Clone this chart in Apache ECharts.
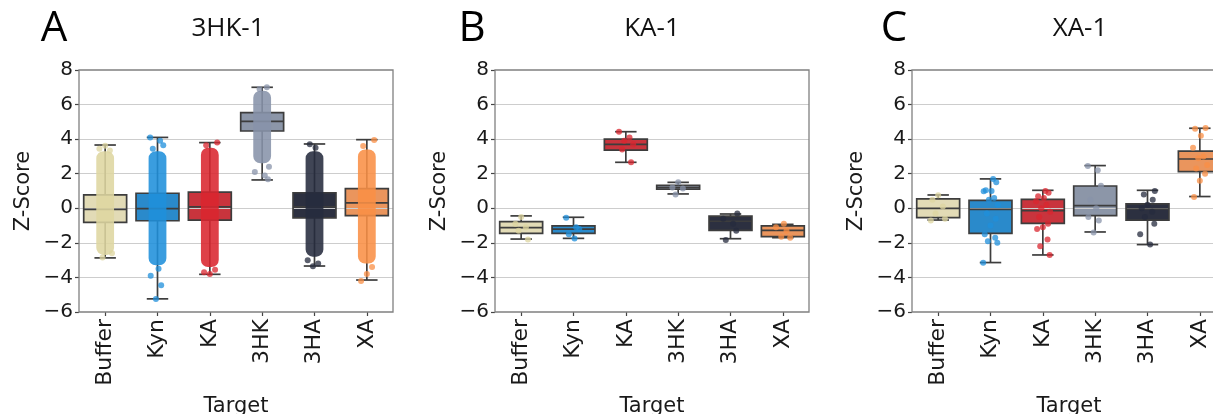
<!DOCTYPE html>
<html><head><meta charset="utf-8">
<script src="https://cdn.jsdelivr.net/npm/echarts@6/dist/echarts.min.js"></script>
<style>html,body{margin:0;padding:0;background:#fff}#c{width:1213px;height:414px}</style>
</head><body><div id="c"></div>
<script>
// ---------------- data ----------------
const categories = ['Buffer', 'Kyn', 'KA', '3HK', '3HA', 'XA'];
const yTicks = [-6, -4, -2, 0, 2, 4, 6, 8];
const panelLetters = ['A', 'B', 'C'];
const panelTitles = ['3HK-1', 'KA-1', 'XA-1'];
const xAxisName = 'Target';
const yAxisName = 'Z-Score';

// box stats per category: [lowWhisker, Q1, median, Q3, highWhisker]
const boxA = [
  [-2.87, -0.81, -0.06, 0.78, 3.66],
  [-5.24, -0.72, -0.02, 0.87, 4.10],
  [-3.82, -0.68, 0.08, 0.93, 3.80],
  [1.64, 4.47, 5.03, 5.53, 7.00],
  [-3.34, -0.56, 0.08, 0.90, 3.72],
  [-4.15, -0.42, 0.31, 1.14, 3.97]
];
const boxB = [
  [-1.78, -1.45, -1.12, -0.77, -0.44],
  [-1.74, -1.45, -1.21, -1.02, -0.52],
  [2.66, 3.37, 3.70, 4.00, 4.43],
  [0.83, 1.10, 1.20, 1.33, 1.50],
  [-1.76, -1.28, -0.75, -0.45, -0.33],
  [-1.70, -1.64, -1.28, -1.02, -0.93]
];
const boxC = [
  [-0.68, -0.54, 0.00, 0.54, 0.77],
  [-3.14, -1.45, -0.06, 0.46, 1.70],
  [-2.70, -0.87, -0.14, 0.52, 1.04],
  [-1.37, -0.42, 0.15, 1.29, 2.47],
  [-2.10, -0.68, -0.04, 0.25, 1.04],
  [0.68, 2.12, 2.85, 3.31, 4.63]
];

// panel A: dense strip of points, extent of the dense part [low, high]
const cloudA = [
  [-2.7, 3.3],
  [-3.3, 3.3],
  [-3.4, 3.5],
  [2.6, 6.8],
  [-2.8, 3.3],
  [-3.2, 3.4]
];
// panel A: sparse points beyond the dense part
const pointsA = [
  [3.62, 3.45, 3.35, -2.85, -2.6],
  [4.1, 3.9, 3.65, 3.45, -3.5, -3.9, -4.45, -5.25],
  [3.8, 3.65, -3.55, -3.8, -3.7],
  [7.0, 6.9, 2.4, 2.1, 1.9, 1.68],
  [3.7, 3.5, -3.0, -3.2, -3.35],
  [3.95, 3.6, -3.4, -3.8, -4.2]
];
const pointsB = [
  [-0.5, -0.9, -1.1, -1.3, -1.8],
  [-0.55, -1.1, -1.2, -1.5, -1.75],
  [4.43, 4.1, 3.9, 3.7, 3.4, 2.66],
  [1.5, 1.2, 1.15, 0.8],
  [-0.3, -0.6, -0.9, -1.3, -1.83],
  [-0.9, -1.1, -1.3, -1.65, -1.7]
];
const pointsC = [
  [0.75, 0.5, 0.1, -0.3, -0.6, -0.7],
  [1.7, 1.5, 1.05, 1.0, 0.98, 0.6, 0.5, 0.2, -0.3, -0.6, -1.0, -1.5, -1.7, -1.9, -2.0, -3.15],
  [1.0, 0.9, 0.7, 0.6, 0.4, 0.2, 0.0, -0.2, -0.5, -0.9, -1.1, -1.2, -1.8, -2.2, -2.7],
  [2.45, 2.2, 1.3, 0.5, 0.0, -0.5, -0.7, -1.4],
  [1.0, 0.8, 0.5, 0.2, 0.0, -0.2, -0.5, -0.9, -1.5, -2.1],
  [4.65, 4.6, 4.2, 3.5, 3.0, 2.9, 2.5, 2.3, 2.0, 1.6, 0.65]
];

// ---------------- style ----------------
const stripColors = ['#ded6a0', '#1f8fdb', '#d9262f', '#8893aa', '#262b3d', '#f98f46'];
const boxColors = ['#e2dbb6', '#2a8acb', '#c9343d', '#8c96a8', '#2c3040', '#ea955d'];
const jitterPattern = [0.0, -0.11, 0.09, -0.05, 0.13, -0.14, 0.05, 0.11, -0.09, 0.02, -0.13, 0.07, -0.03, 0.14, -0.07, 0.1];
const gridsPx = [
  { left: 79, top: 70, width: 314, height: 242 },
  { left: 495, top: 70, width: 314, height: 242 },
  { left: 912, top: 70, width: 314, height: 242 }
];
const titlePos = [[228, 29], [652, 29], [1080, 29]];
const letterPos = [[54, 29], [472, 29], [894, 29]];
const EDGE = '#3d3d3d';
const FONT = 'DejaVu Sans';

const boxes = [boxA, boxB, boxC];
const points = [pointsA, pointsB, pointsC];

function boxData(b) { return b.map((s, i) => [i].concat(s)); }
function pointData(p) {
  const out = []; let k = 0;
  p.forEach((arr, i) => arr.forEach(v => { out.push([i, v, jitterPattern[k % jitterPattern.length]]); k++; }));
  return out;
}

function renderFill(params, api) {
  const x = api.value(0);
  const q1 = api.coord([x, api.value(2)]);
  const q3 = api.coord([x, api.value(4)]);
  const bw = api.size([1, 0])[0] * 0.82;
  return {
    type: 'rect',
    shape: { x: q1[0] - bw / 2, y: q3[1], width: bw, height: q1[1] - q3[1] },
    style: { fill: boxColors[x], stroke: null }
  };
}
function renderLines(params, api) {
  const x = api.value(0);
  const lo = api.coord([x, api.value(1)]);
  const q1 = api.coord([x, api.value(2)]);
  const md = api.coord([x, api.value(3)]);
  const q3 = api.coord([x, api.value(4)]);
  const hi = api.coord([x, api.value(5)]);
  const bw = api.size([1, 0])[0] * 0.82;
  const cx = q1[0];
  const st = { stroke: EDGE, lineWidth: 1.7, fill: null };
  return {
    type: 'group',
    children: [
      { type: 'rect', shape: { x: cx - bw / 2, y: q3[1], width: bw, height: q1[1] - q3[1] }, style: st },
      { type: 'line', shape: { x1: cx - bw / 2, y1: md[1], x2: cx + bw / 2, y2: md[1] }, style: st },
      { type: 'line', shape: { x1: cx, y1: q3[1], x2: cx, y2: hi[1] }, style: st },
      { type: 'line', shape: { x1: cx, y1: q1[1], x2: cx, y2: lo[1] }, style: st },
      { type: 'line', shape: { x1: cx - bw / 4, y1: hi[1], x2: cx + bw / 4, y2: hi[1] }, style: st },
      { type: 'line', shape: { x1: cx - bw / 4, y1: lo[1], x2: cx + bw / 4, y2: lo[1] }, style: st }
    ]
  };
}
function renderCloud(params, api) {
  const x = api.value(0);
  const lo = api.coord([x, api.value(1)]);
  const hi = api.coord([x, api.value(2)]);
  const w = api.size([1, 0])[0] * 0.34;
  return {
    type: 'rect',
    shape: { x: lo[0] - w / 2, y: hi[1], width: w, height: lo[1] - hi[1], r: w / 2.5 },
    style: { fill: stripColors[x], opacity: 0.88 }
  };
}
function renderPoint(params, api) {
  const x = api.value(0);
  const p = api.coord([x, api.value(1)]);
  const bandW = api.size([1, 0])[0];
  return {
    type: 'circle',
    shape: { cx: p[0] + api.value(2) * bandW, cy: p[1], r: 3 },
    style: { fill: stripColors[x], opacity: 0.75 }
  };
}

const option = {
  animation: false,
  backgroundColor: '#fff',
  grid: gridsPx.map(g => Object.assign({ show: true, borderColor: '#808080', borderWidth: 1.3, z: 6, backgroundColor: 'transparent', outerBoundsMode: 'none', containLabel: false }, g)),
  xAxis: gridsPx.map((g, i) => ({
    type: 'category', gridIndex: i, data: categories, boundaryGap: true,
    axisLine: { show: false, onZero: false },
    axisTick: { show: true, alignWithLabel: true, length: 4, lineStyle: { color: '#444', width: 1.2 } },
    axisLabel: { rotate: 90, interval: 0, margin: 7, fontSize: 22, fontFamily: FONT, color: '#1a1a1a' },
    name: xAxisName, nameLocation: 'middle', nameGap: 84,
    nameTextStyle: { fontSize: 21, fontFamily: FONT, color: '#1a1a1a' },
    splitLine: { show: false }, z: 2
  })),
  yAxis: gridsPx.map((g, i) => ({
    type: 'value', gridIndex: i, min: yTicks[0], max: yTicks[yTicks.length - 1], interval: 2,
    axisLine: { show: false, onZero: false },
    axisTick: { show: true, length: 4, lineStyle: { color: '#444', width: 1.2 } },
    axisLabel: { margin: 6, fontSize: 20, fontFamily: FONT, color: '#1a1a1a', formatter: v => String(v).replace('-', '\u2212') },
    splitLine: { show: true, showMinLine: false, showMaxLine: false, lineStyle: { color: '#cdcdcd', width: 1.2 } },
    name: yAxisName, nameLocation: 'middle', nameGap: 45, nameRotate: 90,
    nameTextStyle: { fontSize: 21, fontFamily: FONT, color: '#1a1a1a' },
    z: 2
  })),
  graphic: panelTitles.map((t, i) => ({
    type: 'text', x: titlePos[i][0], y: titlePos[i][1], z: 10,
    style: { text: t, fontSize: 26, fontFamily: 'Open Sans', fill: '#111', textAlign: 'center', textVerticalAlign: 'middle' }
  })).concat(panelLetters.map((t, i) => ({
    type: 'text', x: letterPos[i][0], y: letterPos[i][1], z: 10,
    style: { text: t, fontSize: 42, fontFamily: 'Open Sans', fill: '#000', textAlign: 'center', textVerticalAlign: 'middle' }
  }))),
  series: []
};

boxes.forEach((b, i) => {
  option.series.push({ type: 'custom', xAxisIndex: i, yAxisIndex: i, z: 1, renderItem: renderFill, data: boxData(b), encode: { x: 0, y: [2, 4] } });
  option.series.push({ type: 'custom', xAxisIndex: i, yAxisIndex: i, z: 3, renderItem: renderLines, data: boxData(b), encode: { x: 0, y: [1, 5] } });
  if (i === 0) {
    option.series.push({ type: 'custom', xAxisIndex: i, yAxisIndex: i, z: 4, renderItem: renderCloud, data: cloudA.map((c, k) => [k].concat(c)), encode: { x: 0, y: [1, 2] } });
  }
  option.series.push({ type: 'custom', xAxisIndex: i, yAxisIndex: i, z: 5, renderItem: renderPoint, data: pointData(points[i]), encode: { x: 0, y: 1 } });
});

const chart = echarts.init(document.getElementById('c'), null, { renderer: 'canvas' });
chart.setOption(option);
</script></body></html>
